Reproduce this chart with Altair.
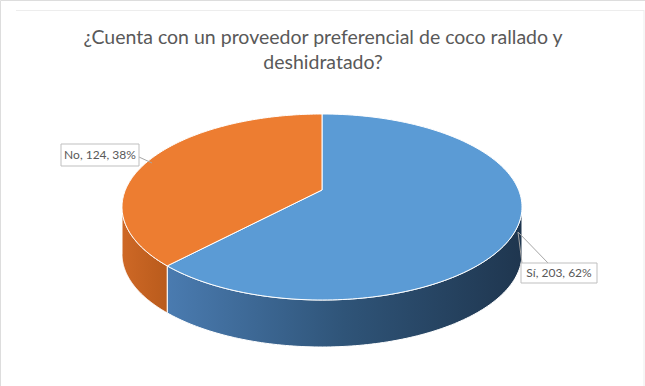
import altair as alt
import numpy as np
import pandas as pd

# ---- data ----
categories = ["Sí", "No"]
counts = [203, 124]
top_colors = ["#5B9BD5", "#ED7D31"]
title_lines = ["¿Cuenta con un proveedor preferencial de coco rallado y", "deshidratado?"]

# ---- layout (pixels) ----
W, H = 645, 386
CX, CY = 322, 207      # centre of the elliptical top face
RX, RY = 200, 93       # ellipse semi-axes
APEX_Y = 190           # projected pie centre (perspective)
DEPTH = 47             # thickness of the disc
D = DEPTH / RY
A = (CY - APEX_Y) / RY
FONT = "Lato"

total = sum(counts)
fracs = [c / total for c in counts]
ends = list(np.cumsum(fracs))
starts = [0.0] + ends[:-1]
pcts = [int(round(f * 100)) for f in fracs]


def to_phi(turn):
    """real slice angle (turns, clockwise from top) -> parametric angle on the
    projected ellipse, casting a ray from the projected centre."""
    th = 2 * np.pi * turn
    s = -A * np.cos(th) + np.sqrt(A * A * np.cos(th) ** 2 - A * A + 1)
    x, y = s * np.sin(th), A + s * np.cos(th)
    phi = np.arctan2(x, y)
    if phi < 0 or (phi == 0 and turn > 0.5):
        phi += 2 * np.pi
    return phi


def arc(p0, p1, n):
    p = np.linspace(p0, p1, n)
    return np.sin(p), np.cos(p)


rows = []
for i, cat in enumerate(categories):
    p0, p1 = to_phi(starts[i]), to_phi(ends[i])
    # top face sector
    xs, ys = arc(p0, p1, 160)
    pts = [(0.0, A)] + list(zip(xs, ys)) + [(0.0, A)]
    for k, (x, y) in enumerate(pts):
        rows.append(dict(kind="top", cat=cat, ord=k, x=x, y=y))
    # visible side wall (front half of the disc)
    a, b = max(p0, np.pi / 2), min(p1, 1.5 * np.pi)
    if a < b:
        xs, ys = arc(a, b, 120)
        pts = list(zip(xs, ys)) + list(zip(xs[::-1], ys[::-1] - D))
        pts.append(pts[0])
        for k, (x, y) in enumerate(pts):
            rows.append(dict(kind="side", cat=cat, ord=k, x=x, y=y))
shapes = pd.DataFrame(rows)

xs_scale = alt.Scale(domain=[-CX / RX, (W - CX) / RX], nice=False, zero=False)
ys_scale = alt.Scale(domain=[-(H - CY) / RY, CY / RY], nice=False, zero=False)
X = alt.X("x:Q", scale=xs_scale, axis=None)
Y = alt.Y("y:Q", scale=ys_scale, axis=None)

base = alt.Chart(shapes)


def poly(kind, cat, fill):
    return base.transform_filter(
        (alt.datum.kind == kind) & (alt.datum.cat == cat)
    ).mark_line(fill=fill, stroke="white", strokeWidth=1, strokeJoin="round").encode(
        x=X, y=Y, order=alt.Order("ord:Q")
    )


blue_side = {"gradient": "linear", "x1": 0, "x2": 1, "y1": 0, "y2": 0,
             "stops": [{"offset": 0, "color": "#4A7BB0"},
                       {"offset": 0.5, "color": "#2F5478"},
                       {"offset": 1, "color": "#1F364F"}]}
orange_side = {"gradient": "linear", "x1": 0, "x2": 1, "y1": 0, "y2": 0,
               "stops": [{"offset": 0, "color": "#CE6826"},
                         {"offset": 1, "color": "#B95B1C"}]}

layers = [
    poly("side", "Sí", blue_side),
    poly("side", "No", orange_side),
    poly("top", "Sí", top_colors[0]),
    poly("top", "No", top_colors[1]),
]

# ---- data labels (callouts) ----
label_pos = {"Sí": (559, 273, 76, 20), "No": (100, 155, 78, 22)}
lab = pd.DataFrame({
    "cat": categories,
    "text": [f"{c}, {n}, {p}%" for c, n, p in zip(categories, counts, pcts)],
})
lab["lx"] = [(label_pos[c][0] - CX) / RX for c in categories]
lab["ly"] = [(CY - label_pos[c][1]) / RY for c in categories]
lab["x0"] = [(label_pos[c][0] - label_pos[c][2] / 2 - CX) / RX for c in categories]
lab["x1"] = [(label_pos[c][0] + label_pos[c][2] / 2 - CX) / RX for c in categories]
lab["y0"] = [(CY - label_pos[c][1] + label_pos[c][3] / 2) / RY for c in categories]
lab["y1"] = [(CY - label_pos[c][1] - label_pos[c][3] / 2) / RY for c in categories]

# leader lines: from the slice edge to the label box
leader_px = [
    ("Sí", 518, 232, 522, 263),
    ("Sí", 518, 232, 548, 263),
    ("No", 139, 157, 152, 163),
]
lead = pd.DataFrame({
    "cat": [l[0] for l in leader_px],
    "ax": [(l[1] - CX) / RX for l in leader_px],
    "ay": [(CY - l[2]) / RY for l in leader_px],
    "bx": [(l[3] - CX) / RX for l in leader_px],
    "by": [(CY - l[4]) / RY for l in leader_px],
})

leaders = alt.Chart(lead).mark_rule(color="#A6A6A6", strokeWidth=1).encode(
    x=alt.X("ax:Q", scale=xs_scale, axis=None), y=alt.Y("ay:Q", scale=ys_scale, axis=None),
    x2="bx:Q", y2="by:Q",
)
boxes = alt.Chart(lab).mark_rect(fill="white", stroke="#BFBFBF", strokeWidth=1).encode(
    x=alt.X("x0:Q", scale=xs_scale, axis=None), x2="x1:Q",
    y=alt.Y("y0:Q", scale=ys_scale, axis=None), y2="y1:Q",
)
texts = alt.Chart(lab).mark_text(font=FONT, fontSize=12, color="#595959",
                                 align="center", baseline="middle").encode(
    x=alt.X("lx:Q", scale=xs_scale, axis=None), y=alt.Y("ly:Q", scale=ys_scale, axis=None),
    text="text:N",
)

title = alt.Chart(pd.DataFrame({"t": [title_lines]})).mark_text(
    font=FONT, fontSize=19.5, color="#595959", align="center", baseline="middle",
    lineHeight=25,
).encode(x=alt.value(323), y=alt.value(38), text="t")

# faint outline of the chart area (top and right edges only)
frame_top = alt.Chart(pd.DataFrame({"a": [0]})).mark_rule(
    color="#EDEDED", strokeWidth=1
).encode(x=alt.value(16), x2=alt.value(644), y=alt.value(10.5))
frame_right = alt.Chart(pd.DataFrame({"a": [0]})).mark_rule(
    color="#EDEDED", strokeWidth=1
).encode(x=alt.value(644), y=alt.value(10), y2=alt.value(386))

chart = alt.layer(frame_top, frame_right, *layers, leaders, boxes, texts, title).properties(
    width=W, height=H, padding=0, autosize=alt.AutoSizeParams(type="none")
).configure_view(stroke=None).configure(background="white")

chart.save("out.html", embed_options={"renderer": "svg", "actions": False})
